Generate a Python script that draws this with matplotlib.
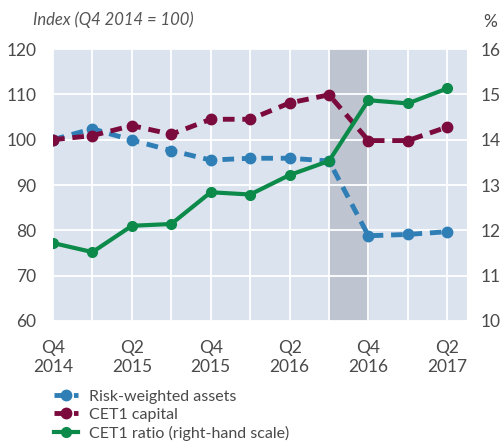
import matplotlib
matplotlib.use('Agg')
import matplotlib.pyplot as plt
import numpy as np

plt.rcParams['font.family'] = ['Lato', 'DejaVu Sans']

quarters = ["Q4\n2014", "", "Q2\n2015", "", "Q4\n2015", "", "Q2\n2016", "", "Q4\n2016", "", "Q2\n2017"]
rwa = [100, 102.4, 99.9, 97.6, 95.5, 95.9, 95.9, 95.3, 78.8, 79.1, 79.7]
cet1_capital = [100, 100.9, 103.1, 101.2, 104.5, 104.5, 108.1, 109.9, 99.8, 99.8, 102.8]
cet1_ratio = [11.72, 11.52, 12.10, 12.14, 12.84, 12.79, 13.22, 13.53, 14.87, 14.80, 15.13]
shade = (7, 8)

blue = '#2f7fb6'
maroon = '#7b0a3d'
green = '#0b8a4a'
txt = '#4a4a4a'

fig = plt.figure(figsize=(5.02, 4.48), dpi=100)
ax = fig.add_axes([0.1056, 0.2835, 0.8247, 0.6071])
x = np.arange(len(quarters))

ax.set_facecolor('#dbe3ee')
ax.axvspan(shade[0], shade[1], color='#bfc5d0', zorder=0.5)
ax.grid(color='white', linewidth=1.3)
ax.set_axisbelow(True)

ax.plot(x, rwa, color=blue, lw=3.5, ls=(0, (2.4, 1.6)), marker='o', ms=7.5,
        label='Risk-weighted assets', zorder=3)
ax.plot(x, cet1_capital, color=maroon, lw=3.5, ls=(0, (2.4, 1.6)), marker='o', ms=7.5,
        label='CET1 capital', zorder=3)

ax2 = ax.twinx()
ax2.plot(x, cet1_ratio, color=green, lw=3, marker='o', ms=7,
         label='CET1 ratio (right-hand scale)')

ax.set_xlim(0, 10.5)
ax.set_ylim(60, 120)
ax2.set_ylim(10, 16)
ax.set_xticks(x)
ax.set_xticklabels(quarters)
ax.set_yticks(range(60, 121, 10))
ax2.set_yticks(range(10, 17))

for a in (ax, ax2):
    for s in a.spines.values():
        s.set_visible(False)
    a.tick_params(length=0, labelsize=12.5, colors=txt)
ax.tick_params(axis='y', pad=12)
ax.tick_params(axis='x', pad=14)
ax2.tick_params(axis='y', pad=10)

fig.text(0.066, 0.955, 'Index (Q4 2014 = 100)', fontsize=12, style='italic',
         color='#555555', va='center')
fig.text(0.99, 0.952, '%', fontsize=12.5, color=txt, ha='right', va='center')

h1, l1 = ax.get_legend_handles_labels()
h2, l2 = ax2.get_legend_handles_labels()
fig.legend(h1 + h2, l1 + l2, loc='upper left', bbox_to_anchor=(0.095, 0.145),
           frameon=False, fontsize=11.5, handlelength=1.5, labelspacing=0.25,
           handletextpad=0.7, labelcolor=txt, borderaxespad=0)

fig.savefig('out.png', dpi=100)
